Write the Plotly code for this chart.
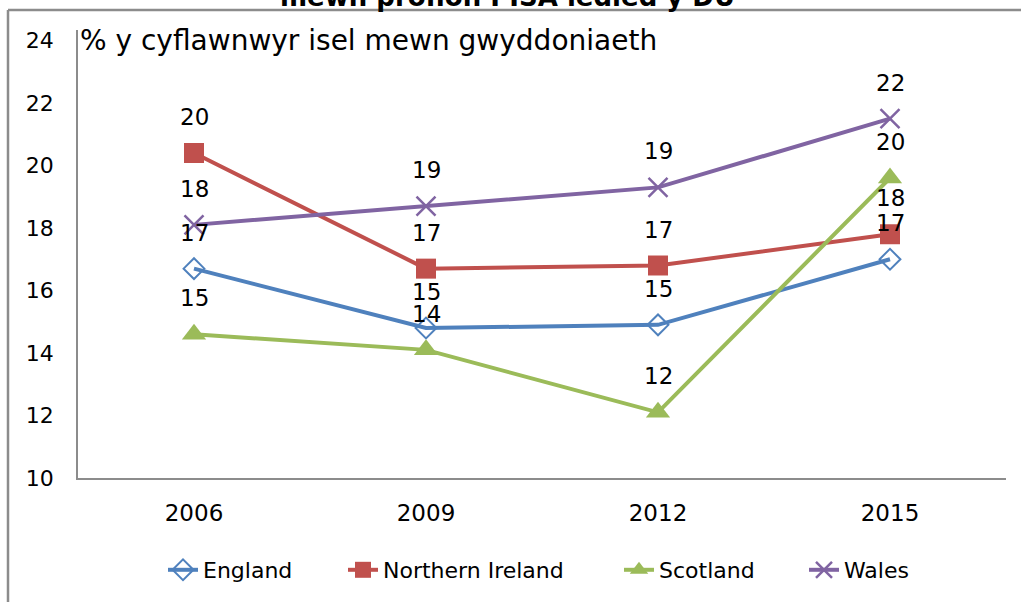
import plotly.graph_objects as go

years = ["2006", "2009", "2012", "2015"]
england = [16.7, 14.8, 14.9, 17.0]
northern_ireland = [20.4, 16.7, 16.8, 17.8]
scotland = [14.6, 14.1, 12.1, 19.6]
wales = [18.1, 18.7, 19.3, 21.5]

series_names = ["England", "Northern Ireland", "Scotland", "Wales"]
y_title = "% y cyflawnwyr isel mewn gwyddoniaeth"
chart_title = "mewn profion PISA ledled y DU"
y_ticks = [10, 12, 14, 16, 18, 20, 22, 24]

series = [england, northern_ireland, scotland, wales]
colors = ["#4F81BD", "#C0504D", "#9BBB59", "#8064A2"]
markers = [
    dict(symbol="diamond-open", size=16, line=dict(width=2)),
    dict(symbol="square", size=20),
    dict(symbol="triangle-up", size=21),
    dict(symbol="x-thin-open", size=19, line=dict(width=2.5)),
]
legend_ids = ["legend", "legend2", "legend3", "legend4"]
legend_text_px = [203, 383, 659, 844]

W, H = 1021, 602
L, R, T, B = 78, 15, 30, 124
PW = W - L - R
PH = H - T - B


def px_x(px):
    return (px - L) / PW


def px_y(py):
    return (H - B - py) / PH


FONT = "DejaVu Sans"
fig = go.Figure()
for name, vals, col, mk, lid in zip(series_names, series, colors, markers, legend_ids):
    m = dict(mk)
    m["color"] = col
    if "line" in m:
        m["line"] = dict(m["line"], color=col)
    fig.add_trace(go.Scatter(
        x=years, y=vals, name=name, mode="lines+markers",
        line=dict(color=col, width=4), marker=m, legend=lid,
    ))

annotations = []
for vals in series:
    for i, v in enumerate(vals):
        annotations.append(dict(
            x=i, y=v, xref="x", yref="y", text=str(int(round(v))),
            showarrow=False, yshift=36, font=dict(family=FONT, size=23, color="black"),
        ))

annotations.append(dict(
    x=0, xref="paper", xanchor="left", xshift=0, y=24, yref="y", yanchor="middle",
    text=y_title, showarrow=False, font=dict(family=FONT, size=28, color="black"),
))
annotations.append(dict(
    x=px_x(507), xref="paper", xanchor="center",
    y=px_y(13), yref="paper", yanchor="bottom", borderpad=0,
    text="<b>" + chart_title + "</b>", showarrow=False,
    font=dict(family=FONT, size=26, color="black"),
))

shapes = [
    dict(type="line", xref="paper", yref="paper", layer="above",
         x0=px_x(8), x1=px_x(1030), y0=px_y(10), y1=px_y(10),
         line=dict(color="#8c8c8c", width=2.5)),
    dict(type="line", xref="paper", yref="paper", layer="above",
         x0=px_x(8), x1=px_x(8), y0=px_y(10), y1=px_y(610),
         line=dict(color="#8c8c8c", width=2.5)),
]

legends = {}
for lid, tx in zip(legend_ids, legend_text_px):
    legends[lid] = dict(orientation="h", x=px_x(tx - 40), xanchor="left",
                        y=px_y(570), yanchor="middle", bgcolor="rgba(0,0,0,0)",
                        font=dict(family=FONT, size=22, color="black"))

fig.update_layout(
    width=W, height=H,
    margin=dict(l=L, r=R, t=T, b=B, autoexpand=False),
    paper_bgcolor="white", plot_bgcolor="white",
    font=dict(family=FONT, color="black"),
    showlegend=True,
    annotations=annotations,
    shapes=shapes,
    **legends,
)
fig.update_xaxes(type="category", range=[-0.5, 3.5], showgrid=False, showline=True,
                 linecolor="#8c8c8c", linewidth=1.5, ticks="", automargin=False,
                 tickfont=dict(family=FONT, size=23), ticklabelstandoff=14, zeroline=False)
fig.update_yaxes(range=[10, 24.336], tickvals=y_ticks, showgrid=False, showline=True,
                 linecolor="#8c8c8c", linewidth=1.5, ticks="", automargin=False,
                 tickfont=dict(family=FONT, size=22), ticklabelstandoff=18, zeroline=False)

fig.write_html("out.html", config={"displayModeBar": False},
               post_script="document.body.style.margin='0';document.body.style.overflow='hidden';")
